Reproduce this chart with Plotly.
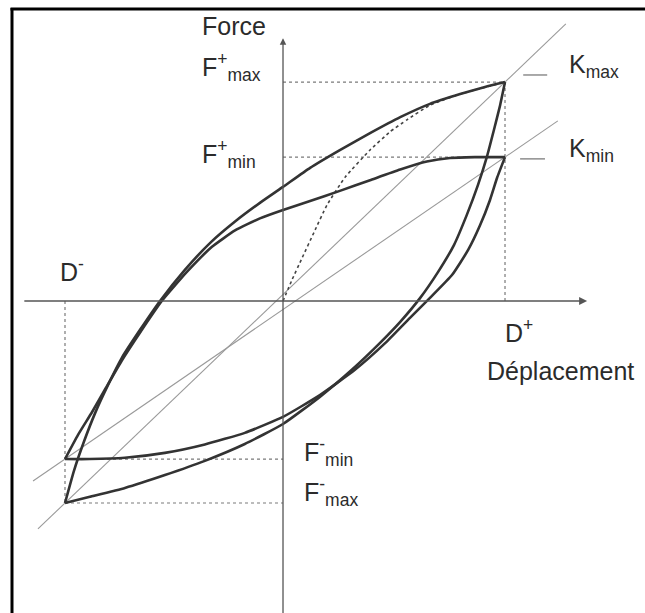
import plotly.graph_objects as go

# Key points of the cyclic test (displacement, force), arbitrary units
D_pos, D_neg = 50.0, -49.1
F_pos_max, F_pos_min = 49.3, 32.4
F_neg_min, F_neg_max = -35.6, -45.5

# Loop at maximum stiffness (Kmax): loading and unloading branches
loop_max_up_x = [-49.1, -47.1, -44.8, -42.3, -39.4, -36.3, -32.2, -27.7, -22.1, -16.4,
                 -10.8, -5.2, 0.0, 6.1, 12.8, 19.6, 26.4, 33.1, 39.9, 45.5, 50.0]
loop_max_up_y = [-45.5, -38.3, -31.6, -25.2, -18.9, -12.8, -6.5, 0.0, 7.0, 13.1,
                 17.9, 22.1, 25.7, 30.0, 34.0, 37.8, 41.4, 44.4, 46.6, 48.2, 49.3]
loop_max_dn_x = [50.0, 48.9, 47.5, 45.9, 43.9, 41.4, 38.5, 34.9, 30.9, 26.4, 21.4,
                 15.5, 8.3, 0.0, -8.6, -17.6, -26.6, -35.6, -43.5, -49.1]
loop_max_dn_y = [49.3, 44.1, 38.5, 32.4, 26.1, 19.4, 12.6, 6.5, 0.7, -4.7, -9.9,
                 -15.5, -21.6, -27.7, -32.2, -36.0, -39.2, -42.1, -44.1, -45.5]

# Loop at minimum stiffness (Kmin)
loop_min_up_x = [-49.1, -46.2, -43.0, -39.9, -36.3, -32.0, -27.3, -21.6, -16.0, -10.8,
                 -5.2, 0.0, 6.1, 12.8, 19.6, 26.4, 32.4, 37.6, 43.2, 50.0]
loop_min_up_y = [-35.6, -30.2, -25.0, -19.6, -13.4, -6.8, 0.0, 6.6, 12.2, 15.9,
                 18.6, 20.5, 22.5, 24.8, 27.2, 29.6, 31.4, 32.2, 32.4, 32.4]
loop_min_dn_x = [50.0, 48.2, 46.6, 44.4, 41.7, 38.1, 33.1, 28.6, 23.0, 16.2, 8.3,
                 0.0, -8.6, -17.6, -26.6, -35.6, -43.5, -49.1]
loop_min_dn_y = [32.4, 27.7, 22.7, 17.1, 11.5, 5.9, 0.7, -3.8, -9.5, -15.5, -21.2,
                 -26.1, -29.7, -32.3, -34.2, -35.3, -35.6, -35.6]

# First loading curve from the origin
first_load_x = [0.0, 2.0, 4.3, 7.0, 9.9, 14.0, 19.6, 24.1, 27.9, 33.1, 39.9, 50.0]
first_load_y = [0.0, 4.7, 9.7, 15.5, 21.6, 27.9, 34.0, 38.1, 40.8, 44.1, 46.6, 49.3]

# Extent of the secant stiffness lines
kmax_extent = [-55.2, 63.7]
kmin_extent = [-56.3, 61.9]

# Axis extents
x_axis_extent = [-58.6, 68.5]
y_axis_extent = [-71.0, 59.2]

INK = "#333333"
THIN = "#9a9a9a"
DOT = "#7a7a7a"
FONT = "Liberation Sans, Arial, sans-serif"

fig = go.Figure()


def add_line(x, y, color, width, dash="solid", shape="linear"):
    fig.add_trace(go.Scatter(x=x, y=y, mode="lines", hoverinfo="skip",
                             line=dict(color=color, width=width, dash=dash,
                                       shape=shape, smoothing=0.45)))


def secant(p0, p1, extent):
    slope = (p1[1] - p0[1]) / (p1[0] - p0[0])
    return extent, [p0[1] + slope * (xe - p0[0]) for xe in extent]


# Reference dotted lines
add_line([0, D_pos], [F_pos_max, F_pos_max], DOT, 1.2, "dot")
add_line([0, D_pos], [F_pos_min, F_pos_min], DOT, 1.2, "dot")
add_line([D_pos, D_pos], [F_pos_max, 0], DOT, 1.2, "dot")
add_line([D_neg, 0], [F_neg_min, F_neg_min], DOT, 1.2, "dot")
add_line([D_neg, 0], [F_neg_max, F_neg_max], DOT, 1.2, "dot")
add_line([D_neg, D_neg], [0, F_neg_max], DOT, 1.2, "dot")

# Secant stiffness lines
kx, ky = secant((D_neg, F_neg_max), (D_pos, F_pos_max), kmax_extent)
add_line(kx, ky, THIN, 1.1)
kx, ky = secant((D_neg, F_neg_min), (D_pos, F_pos_min), kmin_extent)
add_line(kx, ky, THIN, 1.1)

# First loading
add_line(first_load_x, first_load_y, "#444444", 1.6, "dot", "spline")

# Hysteresis loops
for xs, ys in [(loop_max_up_x, loop_max_up_y), (loop_max_dn_x, loop_max_dn_y),
               (loop_min_up_x, loop_min_up_y), (loop_min_dn_x, loop_min_dn_y)]:
    add_line(xs, ys, INK, 2.6, "solid", "spline")

# Axes with arrows
fig.add_annotation(x=x_axis_extent[1], y=0, ax=x_axis_extent[0], ay=0,
                   xref="x", yref="y", axref="x", ayref="y", text="",
                   showarrow=True, arrowhead=2, arrowsize=1, arrowwidth=1.6,
                   arrowcolor="#555555", standoff=0)
fig.add_annotation(x=0, y=y_axis_extent[1], ax=0, ay=y_axis_extent[0],
                   xref="x", yref="y", axref="x", ayref="y", text="",
                   showarrow=True, arrowhead=2, arrowsize=1, arrowwidth=1.3,
                   arrowcolor="#555555", standoff=0)

# Leader dashes next to the stiffness labels
add_line([54.1, 59.5], [50.9, 50.9], "#555555", 1.0)
add_line([53.4, 59.0], [32.0, 32.0], "#555555", 1.0)

labels = [
    ("Force", -18.7, 61.9),
    ("F<sup>+</sup><sub>max</sub>", -18.7, 52.7),
    ("F<sup>+</sup><sub>min</sub>", -18.7, 33.1),
    ("K<sub>max</sub>", 64.0, 52.9),
    ("K<sub>min</sub>", 64.0, 34.0),
    ("D<sup>-</sup>", -50.7, 7.0),
    ("D<sup>+</sup>", 49.5, -6.8),
    ("Déplacement", 45.5, -15.8),
    ("F<sup>-</sup><sub>min</sub>", 4.3, -34.0),
    ("F<sup>-</sup><sub>max</sub>", 4.3, -43.0),
]
for text, x, y in labels:
    fig.add_annotation(x=x, y=y, xref="x", yref="y", text=text, showarrow=False,
                       xanchor="left", yanchor="middle",
                       font=dict(family=FONT, size=25, color="#2b2b2b"))

# Black frame on the left and top edges
fig.add_shape(type="line", xref="paper", yref="paper", x0=0.0186, x1=0.0186,
              y0=0, y1=0.987, line=dict(color="black", width=3))
fig.add_shape(type="line", xref="paper", yref="paper", x0=0.0163, x1=1.0,
              y0=0.9853, y1=0.9853, line=dict(color="black", width=3))

fig.update_layout(
    width=645, height=613, margin=dict(l=0, r=0, t=0, b=0),
    paper_bgcolor="white", plot_bgcolor="white", showlegend=False,
    xaxis=dict(range=[-63.74, 81.53], visible=False, fixedrange=True),
    yaxis=dict(range=[-70.27, 67.79], visible=False, fixedrange=True),
)

fig.write_html("out.html")
